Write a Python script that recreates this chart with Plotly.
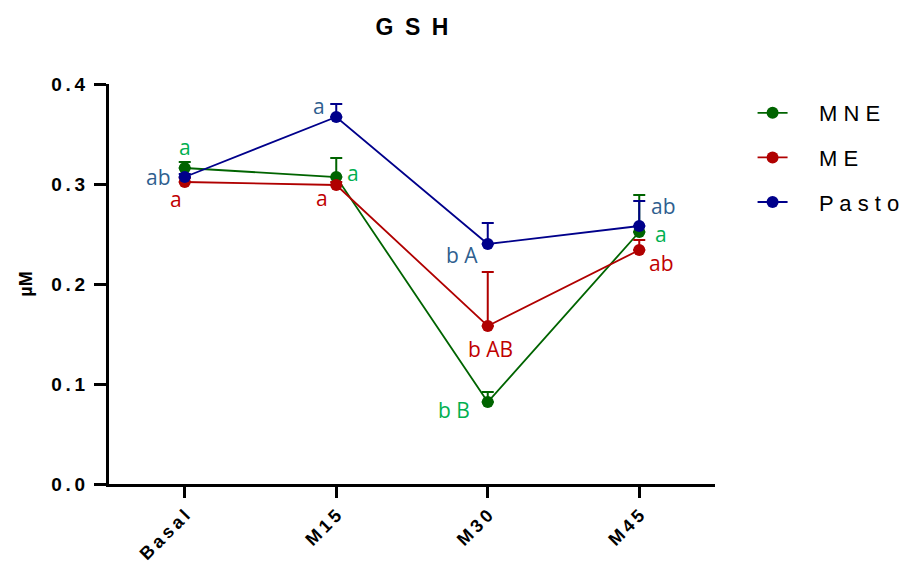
import plotly.graph_objects as go

categories = ["Basal", "M15", "M30", "M45"]
series_names = ["MNE", "ME", "Pasto"]
mne = [0.316, 0.307, 0.082, 0.252]
mne_err = [0.006, 0.019, 0.010, 0.037]
me = [0.302, 0.299, 0.158, 0.234]
me_err = [0.004, 0.003, 0.054, 0.010]
pasto = [0.307, 0.367, 0.240, 0.258]
pasto_err = [0.003, 0.013, 0.021, 0.025]

mne_labels = ["a", "a", "b B", "a"]
me_labels = ["a", "a", "b AB", "ab"]
pasto_labels = ["ab", "a", "b A", "ab"]

y_ticks = [0.0, 0.1, 0.2, 0.3, 0.4]

line_colors = ["#006400", "#b00000", "#00008b"]
text_colors = ["#00b050", "#c00000", "#2f5f8f"]

values = [mne, me, pasto]
errors = [mne_err, me_err, pasto_err]
labels = [mne_labels, me_labels, pasto_labels]
# pixel offsets for letters (style)
offsets = [
    [(0, 21), (17, 4), (-34, -8), (22, -2)],
    [(-9, -17), (-14, -13), (3, -23), (22, -13)],
    [(-26, 0), (-17, 11), (-26, -11), (24, 20)],
]


def spaced(s, sep="\u2009"):
    return sep.join(list(s))


xs = list(range(len(categories)))
fig = go.Figure()
for i, name in enumerate(series_names):
    fig.add_trace(go.Scatter(
        x=xs, y=values[i], name="\u2003\u2009" + spaced(name, " "), mode="lines+markers",
        line=dict(color=line_colors[i], width=1.8),
        marker=dict(color=line_colors[i], size=12),
        error_y=dict(type="data", array=errors[i], arrayminus=[0] * len(xs),
                     symmetric=False, color=line_colors[i], thickness=2, width=6),
        legendgroup=name,
    ))

for i in range(len(series_names)):
    for j in range(len(xs)):
        dx, dy = offsets[i][j]
        fig.add_annotation(
            x=xs[j], y=values[i][j], xref="x", yref="y", text=labels[i][j],
            showarrow=False, xshift=dx, yshift=dy,
            font=dict(family="Open Sans, Noto Sans", size=21, color=text_colors[i]),
        )

fig.update_layout(
    width=903, height=568,
    margin=dict(l=109, r=188, t=84, b=84, autoexpand=False),
    plot_bgcolor="white", paper_bgcolor="white",
    title=dict(text="<b>" + spaced("GSH", "\u2002") + "</b>", x=0.5, xref="paper",
               y=0.952, yanchor="middle",
               font=dict(family="Liberation Sans, Arial", size=23, color="black")),
    font=dict(family="Liberation Sans, Arial", color="black"),
    legend=dict(x=1.062, y=0.98, xanchor="left", yanchor="top", xref="paper",
                font=dict(family="Liberation Sans, Arial", size=22, color="black"),
                tracegroupgap=13, bgcolor="rgba(0,0,0,0)"),
    showlegend=True,
)
fig.update_xaxes(
    range=[-0.5, 3.5], tickvals=xs,
    ticktext=["<b>" + spaced(t) + "</b>" for t in categories], tickangle=-45,
    showline=True, linecolor="black", linewidth=3, ticks="outside", ticklen=11,
    tickwidth=3, tickcolor="black", showgrid=False, zeroline=False,
    tickfont=dict(family="Liberation Sans, Arial", size=18, color="black"),
)
fig.update_yaxes(
    range=[0, 0.4], tickvals=y_ticks,
    ticktext=["<b>" + spaced(f"{v:.1f}") + "</b>" for v in y_ticks],
    showline=True, linecolor="black", linewidth=3, ticks="outside", ticklen=12,
    tickwidth=3, tickcolor="black", showgrid=False, zeroline=False,
    ticklabelstandoff=5,
    tickfont=dict(family="Liberation Sans, Arial", size=19, color="black"),
    title=dict(text="<b>µM</b>", font=dict(family="Liberation Sans, Arial", size=18, color="black"),
               standoff=14),
)

fig.write_html("out.html")
